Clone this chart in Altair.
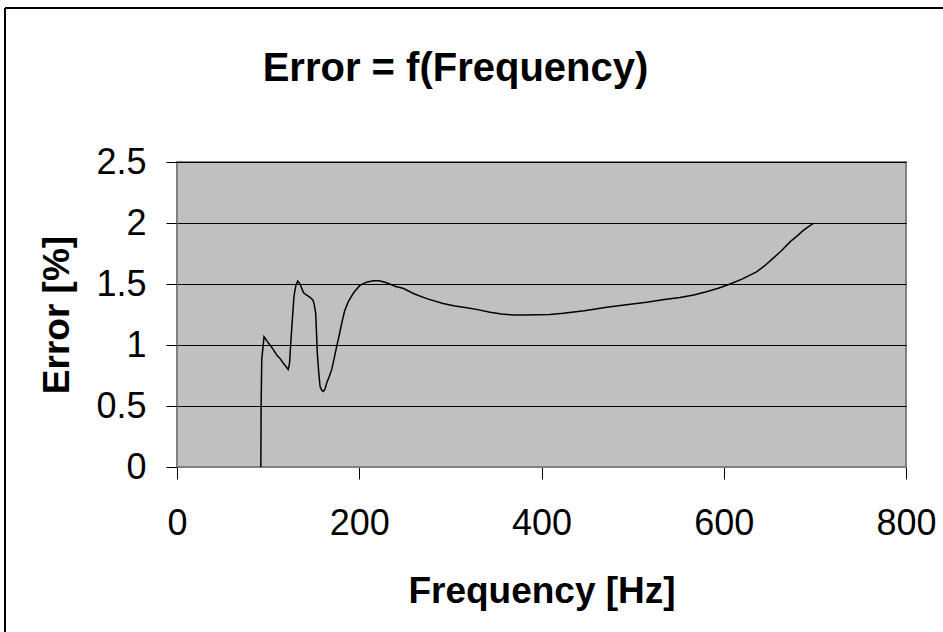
import altair as alt
import pandas as pd

# Data
freq = [92, 92.3, 93, 95.5, 100, 105, 109.4, 113, 116.7, 120,
        122, 123.5, 124.8, 126.5, 128.4, 130.5, 132.5, 135, 138.7, 142,
        146, 149, 150.4, 152.2, 154, 155.5, 157, 158.8, 160.6, 162.5,
        164.3, 167, 169.8, 172.5, 175.3, 178, 180.8, 184, 188, 194,
        200.9, 208, 215.5, 222, 230, 240, 248, 260, 274, 292,
        305, 318, 330, 343.5, 356, 369, 382, 395, 409, 424,
        447, 471.5, 493, 515.4, 533, 552, 567, 581, 594, 607,
        620, 636, 645, 654, 663, 673, 680, 687, 693, 699]
error = [0, 0.5, 0.88, 1.068, 1.02, 0.97, 0.918, 0.89, 0.85, 0.82,
         0.80, 0.85, 1.01, 1.2, 1.40, 1.49, 1.525, 1.5, 1.43, 1.41,
         1.39, 1.37, 1.34, 1.26, 0.93, 0.78, 0.66, 0.63, 0.62, 0.64,
         0.69, 0.74, 0.80, 0.89, 0.99, 1.08, 1.18, 1.28, 1.355, 1.43,
         1.49, 1.515, 1.527, 1.527, 1.51, 1.48, 1.465, 1.42, 1.38, 1.34,
         1.32, 1.306, 1.29, 1.268, 1.255, 1.246, 1.246, 1.248, 1.25, 1.26,
         1.28, 1.31, 1.33, 1.35, 1.37, 1.39, 1.41, 1.437, 1.465, 1.50,
         1.54, 1.60, 1.65, 1.71, 1.77, 1.847, 1.89, 1.937, 1.97, 2.0]
x_ticks = [0, 200, 400, 600, 800]
y_ticks = [0, 0.5, 1, 1.5, 2, 2.5]

df = pd.DataFrame({"freq": freq, "error": error, "idx": list(range(len(freq)))})

FONT = "Liberation Sans"
W, H = 729, 305
PAD_L, PAD_T = 177, 162

line = alt.Chart(df).mark_line(color="black", strokeWidth=1.5).encode(
    x=alt.X("freq:Q",
            scale=alt.Scale(domain=[0, 800], nice=False),
            axis=alt.Axis(values=x_ticks, title="Frequency [Hz]", grid=False,
                          tickSize=12, tickColor="black", domainColor="#808080",
                          labelFontSize=36, labelPadding=27, labelFont=FONT,
                          labelColor="black", labelFlush=False, labelOverlap=False,
                          titleFont=FONT, titleFontSize=37, titleFontWeight="bold",
                          titleColor="black", titleY=124, titleBaseline="middle")),
    y=alt.Y("error:Q",
            scale=alt.Scale(domain=[0, 2.5], nice=False),
            axis=alt.Axis(values=y_ticks, title="Error [%]", grid=True, format="~g",
                          gridColor="black", gridWidth=1, gridOpacity=1,
                          tickSize=11, tickColor="black", domainColor="#808080",
                          labelFontSize=36, labelPadding=20, labelFont=FONT,
                          labelColor="black", labelFlush=False, labelOverlap=False,
                          titleFont=FONT, titleFontSize=37, titleFontWeight="bold",
                          titleColor="black", titleX=-120, titleAngle=-90,
                          titleBaseline="middle")),
    order="idx:Q",
)

# outer frame of the original figure (decoration)
frame_left = alt.Chart(df).mark_rule(color="black", strokeWidth=1.5).encode(
    x=alt.value(5 - PAD_L), y=alt.value(8 - PAD_T), y2=alt.value(632 - PAD_T + 10))
frame_top = alt.Chart(df).mark_rule(color="black", strokeWidth=1.5).encode(
    y=alt.value(8 - PAD_T), x=alt.value(5 - PAD_L), x2=alt.value(943 - PAD_L + 10))

chart = alt.layer(line, frame_left, frame_top).properties(
    width=W, height=H,
    title=alt.Title("Error = f(Frequency)", font=FONT, fontSize=40,
                    fontWeight="bold", color="black", anchor="middle",
                    frame="group", dx=-86, offset=-82),
    autosize=alt.AutoSizeParams(type="none"),
    padding={"left": PAD_L, "top": PAD_T, "right": 943 - PAD_L - W, "bottom": 632 - PAD_T - H},
    background="white",
).configure_view(
    fill="#C0C0C0", stroke="#808080", strokeWidth=2
)

chart.save("out.html", embed_options={"renderer": "svg", "actions": False})
